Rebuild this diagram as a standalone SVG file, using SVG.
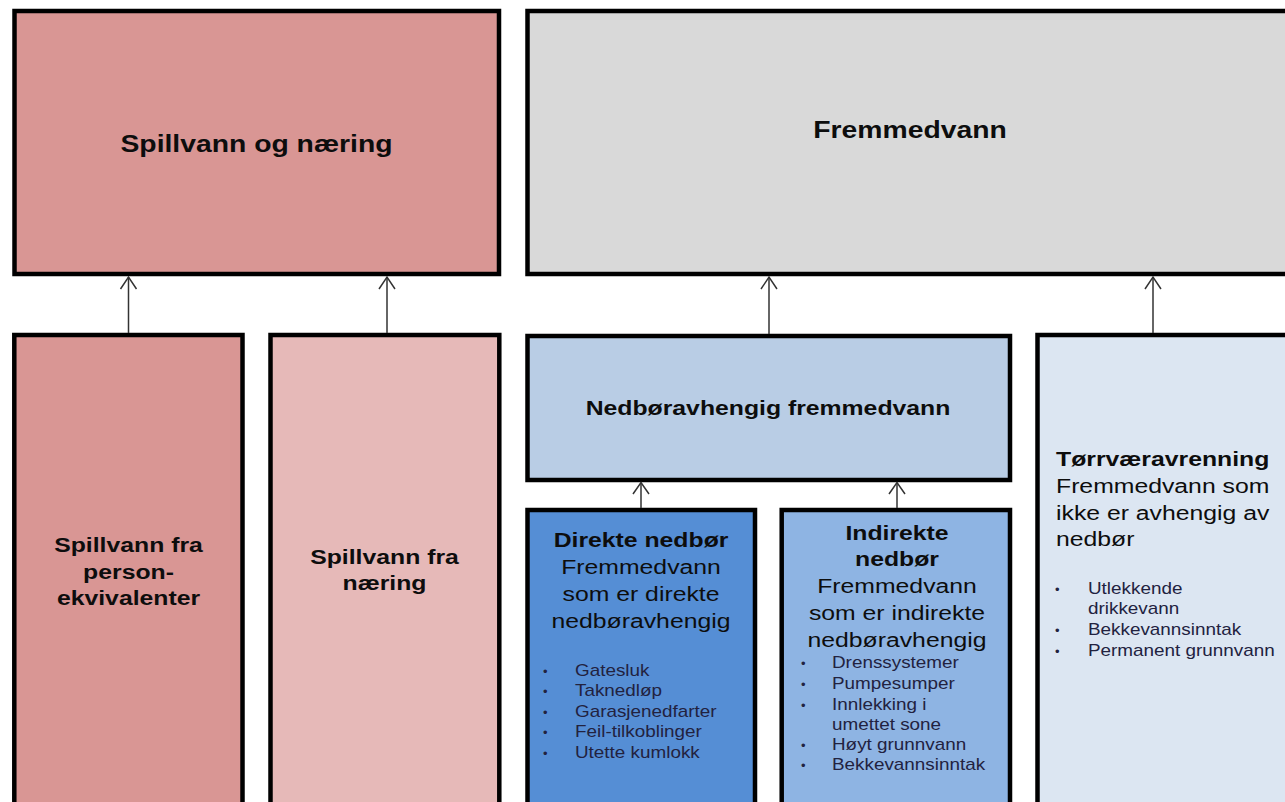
<svg xmlns="http://www.w3.org/2000/svg" width="1285" height="802" viewBox="0 0 1285 802">
<style>
  .box { stroke:#000; stroke-width:4.5; }
  .b { font-family:"Liberation Sans", Arial, sans-serif; font-weight:bold; fill:#0d0d0d; }
  .r { font-family:"Liberation Sans", Arial, sans-serif; fill:#0d0d0d; }
  .t24 { font-size:24px; }
  .t21 { font-size:21px; }
  .li { font-family:"Liberation Sans", Arial, sans-serif; font-size:16px; fill:#22223f; }
  .dot { font-family:"Liberation Sans", Arial, sans-serif; font-size:13px; fill:#22223f; }
  .c { text-anchor:middle; }
  .conn line { stroke:#333; stroke-width:1.5; }
  .conn polyline { stroke:#333; stroke-width:1.5; fill:none; }
</style>
<rect width="1285" height="802" fill="#fff"/>

<g id="spillvann-og-naering">
  <rect class="box" x="14.5" y="11" width="484.5" height="263" fill="#D99694"/>
  <text class="b t24 c" transform="translate(256.5,151.5) scale(1.18,1)">Spillvann og næring</text>
</g>

<g id="fremmedvann">
  <rect class="box" x="527.5" y="11" width="770" height="263" fill="#D9D9D9"/>
  <text class="b t24 c" transform="translate(910,137.5) scale(1.18,1)">Fremmedvann</text>
</g>

<g id="spillvann-person">
  <rect class="box" x="14.3" y="335" width="228.2" height="500" fill="#D99694"/>
  <text class="b t21 c" transform="translate(128.5,551.5) scale(1.18,1)">Spillvann fra</text>
  <text class="b t21 c" transform="translate(128.5,578.5) scale(1.18,1)">person-</text>
  <text class="b t21 c" transform="translate(128.5,604.5) scale(1.18,1)">ekvivalenter</text>
</g>

<g id="spillvann-naering">
  <rect class="box" x="270.5" y="335" width="228.8" height="500" fill="#E6B9B8"/>
  <text class="b t21 c" transform="translate(384.5,563.5) scale(1.18,1)">Spillvann fra</text>
  <text class="b t21 c" transform="translate(384.5,589.5) scale(1.18,1)">næring</text>
</g>

<g id="nedboravhengig">
  <rect class="box" x="527.5" y="336" width="482.5" height="144" fill="#B9CDE5"/>
  <text class="b t21 c" transform="translate(768,414.5) scale(1.18,1)">Nedbøravhengig fremmedvann</text>
</g>

<g id="direkte-nedbor">
  <rect class="box" x="527.5" y="510" width="227.5" height="330" fill="#558ED5"/>
  <text class="b t21 c" transform="translate(641,546.5) scale(1.18,1)">Direkte nedbør</text>
  <text class="r t21 c" transform="translate(641,573.5) scale(1.18,1)">Fremmedvann</text>
  <text class="r t21 c" transform="translate(641,600.5) scale(1.18,1)">som er direkte</text>
  <text class="r t21 c" transform="translate(641,627.5) scale(1.18,1)">nedbøravhengig</text>
  <text class="dot" x="543" y="675.5">•</text>
  <text class="dot" x="543" y="695.5">•</text>
  <text class="dot" x="543" y="716.5">•</text>
  <text class="dot" x="543" y="736.5">•</text>
  <text class="dot" x="543" y="757.5">•</text>
  <text class="li" transform="translate(575,676) scale(1.18,1)">Gatesluk</text>
  <text class="li" transform="translate(575,696) scale(1.18,1)">Taknedløp</text>
  <text class="li" transform="translate(575,717) scale(1.18,1)">Garasjenedfarter</text>
  <text class="li" transform="translate(575,737) scale(1.18,1)">Feil-tilkoblinger</text>
  <text class="li" transform="translate(575,758) scale(1.18,1)">Utette kumlokk</text>
</g>

<g id="indirekte-nedbor">
  <rect class="box" x="781.7" y="510" width="228.3" height="330" fill="#8EB4E3"/>
  <text class="b t21 c" transform="translate(897,539.5) scale(1.18,1)">Indirekte</text>
  <text class="b t21 c" transform="translate(897,565.5) scale(1.18,1)">nedbør</text>
  <text class="r t21 c" transform="translate(897,592.5) scale(1.18,1)">Fremmedvann</text>
  <text class="r t21 c" transform="translate(897,619.5) scale(1.18,1)">som er indirekte</text>
  <text class="r t21 c" transform="translate(897,646.5) scale(1.18,1)">nedbøravhengig</text>
  <text class="dot" x="801" y="667.5">•</text>
  <text class="dot" x="801" y="688.5">•</text>
  <text class="dot" x="801" y="709.5">•</text>
  <text class="dot" x="801" y="749.5">•</text>
  <text class="dot" x="801" y="769.5">•</text>
  <text class="li" transform="translate(832,668) scale(1.18,1)">Drenssystemer</text>
  <text class="li" transform="translate(832,689) scale(1.18,1)">Pumpesumper</text>
  <text class="li" transform="translate(832,710) scale(1.18,1)">Innlekking i</text>
  <text class="li" transform="translate(832,730) scale(1.18,1)">umettet sone</text>
  <text class="li" transform="translate(832,750) scale(1.18,1)">Høyt grunnvann</text>
  <text class="li" transform="translate(832,770) scale(1.18,1)">Bekkevannsinntak</text>
</g>

<g id="torrvaeravrenning">
  <rect class="box" x="1037.5" y="335" width="260" height="500" fill="#DCE6F2"/>
  <text class="b t21" transform="translate(1056,465.5) scale(1.18,1)">Tørrværavrenning</text>
  <text class="r t21" transform="translate(1056,492.5) scale(1.18,1)">Fremmedvann som</text>
  <text class="r t21" transform="translate(1056,519.5) scale(1.18,1)">ikke er avhengig av</text>
  <text class="r t21" transform="translate(1056,545.5) scale(1.18,1)">nedbør</text>
  <text class="dot" x="1055" y="593.5">•</text>
  <text class="dot" x="1055" y="634.5">•</text>
  <text class="dot" x="1055" y="655.5">•</text>
  <text class="li" transform="translate(1088,594) scale(1.18,1)">Utlekkende</text>
  <text class="li" transform="translate(1088,614) scale(1.18,1)">drikkevann</text>
  <text class="li" transform="translate(1088,635) scale(1.18,1)">Bekkevannsinntak</text>
  <text class="li" transform="translate(1088,656) scale(1.18,1)">Permanent grunnvann</text>
</g>

<g id="connectors" class="conn">
  <line x1="128.5" y1="333" x2="128.5" y2="277"/>
  <polyline points="120.5,289 128.5,277 136.5,289"/>
  <line x1="387" y1="333" x2="387" y2="277"/>
  <polyline points="379,289 387,277 395,289"/>
  <line x1="769" y1="334" x2="769" y2="277"/>
  <polyline points="761,289 769,277 777,289"/>
  <line x1="1153" y1="333" x2="1153" y2="277"/>
  <polyline points="1145,289 1153,277 1161,289"/>
  <line x1="641" y1="508" x2="641" y2="482.5"/>
  <polyline points="633,494 641,482.5 649,494"/>
  <line x1="897" y1="508" x2="897" y2="482.5"/>
  <polyline points="889,494 897,482.5 905,494"/>
</g>
</svg>
